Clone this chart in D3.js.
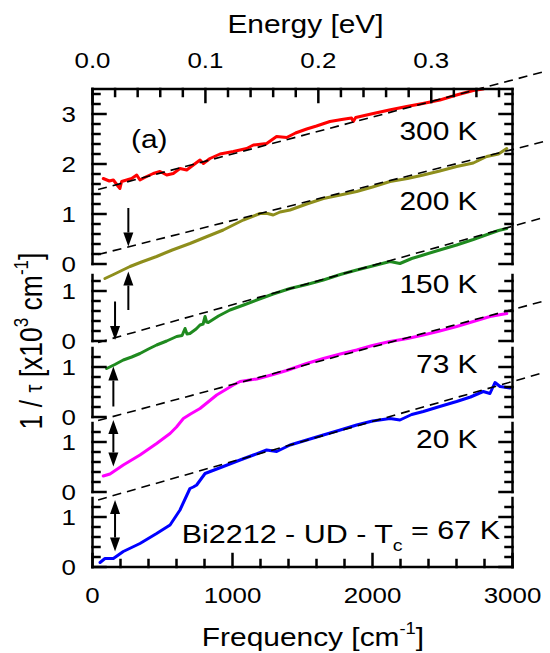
<!DOCTYPE html>
<html><head><meta charset="utf-8">
<script src="https://cdn.jsdelivr.net/npm/d3@7"></script>
<style>body{margin:0;background:#fff}svg{display:block}</style>
</head><body>
<script>
// ---------------- data ----------------
const freqTicks = [0, 1000, 2000, 3000];
const energyTicks = [0, 0.1, 0.2, 0.3];
const temps = ["300 K", "200 K", "150 K", "73 K", "20 K"];
const colors = ["#ff0000", "#8e8e1c", "#1f8a1f", "#ff00ff", "#0000ff"];
const panelMax = [3.5, 1.32, 1.38, 1.38, 1.38];
const panelInts = [[0, 1, 2, 3], [0, 1], [0, 1], [0, 1], [0, 1]];

const s300 = [[77,1.71],[120,1.66],[149,1.68],[184,1.55],[196,1.51],[208,1.65],[244,1.68],[280,1.71],[316,1.78],[339,1.68],[387,1.75],[434,1.81],[482,1.85],[530,1.78],[577,1.81],[625,1.91],[673,1.88],[720,1.98],[768,2.08],[792,2.01],[839,2.11],[911,2.20],[1006,2.25],[1101,2.31],[1149,2.38],[1244,2.41],[1315,2.55],[1387,2.53],[1450,2.62],[1530,2.70],[1600,2.76],[1696,2.85],[1780,2.89],[1850,2.92],[1863,2.85],[1880,2.93],[2006,3.01],[2120,3.08],[2244,3.15],[2360,3.21],[2482,3.28],[2600,3.38],[2720,3.47],[2790,3.50]];
const s200 = [[89,1.25],[150,1.33],[268,1.49],[350,1.58],[458,1.69],[570,1.82],[696,1.95],[810,2.08],[934,2.22],[1077,2.42],[1196,2.55],[1250,2.55],[1291,2.52],[1340,2.58],[1411,2.62],[1530,2.74],[1649,2.85],[1770,2.92],[1887,2.99],[2000,3.08],[2125,3.19],[2250,3.25],[2363,3.32],[2480,3.40],[2601,3.49],[2720,3.56],[2816,3.69],[2900,3.74],[2959,3.85]];
const s150 = [[101,0.97],[160,1.05],[220,1.14],[280,1.20],[339,1.27],[400,1.36],[458,1.44],[530,1.52],[601,1.61],[640,1.63],[661,1.77],[675,1.66],[696,1.67],[740,1.76],[768,1.84],[790,1.86],[804,2.01],[815,1.90],[827,1.89],[900,2.02],[982,2.14],[1080,2.24],[1173,2.34],[1290,2.46],[1411,2.57],[1530,2.65],[1649,2.74],[1770,2.85],[1887,2.94],[2000,3.02],[2125,3.11],[2196,3.07],[2280,3.17],[2363,3.24],[2480,3.34],[2601,3.44],[2720,3.55],[2839,3.67],[2900,3.73],[2959,3.77]];
const s73 = [[77,0.32],[125,0.36],[220,0.54],[339,0.74],[458,0.97],[554,1.17],[600,1.30],[649,1.47],[700,1.56],[768,1.67],[887,1.94],[1006,2.14],[1054,2.21],[1173,2.26],[1290,2.35],[1387,2.43],[1530,2.57],[1649,2.67],[1770,2.76],[1887,2.84],[2000,2.93],[2125,3.01],[2250,3.07],[2363,3.14],[2480,3.22],[2601,3.31],[2720,3.41],[2839,3.51],[2959,3.57]];
const s20 = [[54,0.09],[89,0.17],[149,0.17],[220,0.31],[339,0.47],[458,0.67],[554,0.84],[625,1.14],[696,1.57],[720,1.60],[744,1.64],[804,1.87],[934,2.01],[1054,2.14],[1150,2.24],[1244,2.34],[1316,2.31],[1411,2.44],[1530,2.54],[1649,2.64],[1770,2.74],[1887,2.84],[2000,2.92],[2125,2.97],[2196,2.94],[2280,3.05],[2363,3.11],[2480,3.21],[2601,3.31],[2700,3.40],[2791,3.51],[2839,3.47],[2875,3.69],[2911,3.61],[2982,3.58]];
const seriesList = [s300, s200, s150, s73, s20];

const fitIntercept = [1.46, 1.70, 1.46, 1.40, 1.31];
const fitSlope = [0.74, 0.71, 0.785, 0.75, 0.80];   // per 1000 cm-1
const fitRange = [40, 3230];

const arrowPanel = [1, 1, 2, 2, 3, 4];
const arrowFreq  = [256, 256, 161, 149, 149, 161];
const arrowFrom  = [2.66, 0.62, 2.31, 0.21, 1.44, 1.34];
const arrowTo    = [1.89, 1.39, 1.54, 1.01, 0.51, 0.31];
const arrowBoth  = [false, false, false, false, true, true];

// ---------------- layout ----------------
const W = 550, H = 653;
const FONT = "'Liberation Sans', Arial, Helvetica, sans-serif";
const SX = 1.15;        // horizontal text stretch
const unit = 50, gaps = [11, 7, 6, 6];
const MAJ = 13, MIN = 7, SW = 2.5;
const svg = d3.select("body").append("svg").attr("width", W).attr("height", H);

const x = d3.scaleLinear().domain([0, 3000]).range([92.5, 512.5]);
const EV = 8065.54;
const xE = d3.scaleLinear().domain([0, 3000 / EV]).range(x.range());
const xL = x.range()[0], xR = x.range()[1];

const ys = [];
{
  let top = 89;
  panelMax.forEach((m, i) => {
    if (i > 0) top += gaps[i - 1];
    const bottom = top + m * unit;
    ys.push(d3.scaleLinear().domain([0, m]).range([bottom, top]));
    top = bottom;
  });
}
const yTop = ys[0].range()[1];
const yBottom = ys[4].range()[0];

function txt(xp, yp, anchor, size) {
  return svg.append("text").attr("transform", `translate(${xp},${yp}) scale(${SX},1)`)
    .attr("text-anchor", anchor).attr("font-family", FONT).attr("font-size", size).attr("fill", "#000");
}

// ---- data curves
seriesList.forEach((s, i) => {
  const line = d3.line().x(d => x(d[0])).y(d => ys[i](d[1]));
  svg.append("path").datum(s).attr("d", line)
    .attr("fill", "none").attr("stroke", colors[i]).attr("stroke-width", 3)
    .attr("stroke-linejoin", "round").attr("stroke-linecap", "round");
});

// ---- linear fits (dashed)
fitIntercept.forEach((a, i) => {
  const pts = fitRange.map(f => [f, a + fitSlope[i] * f / 1000]);
  const line = d3.line().x(d => x(d[0])).y(d => ys[i](d[1]));
  svg.append("path").datum(pts).attr("d", line)
    .attr("fill", "none").attr("stroke", "#000").attr("stroke-width", 1.6)
    .attr("stroke-dasharray", "9,6");
});

// ---- arrows
arrowPanel.forEach((p, k) => {
  const ax = x(arrowFreq[k]);
  const y1 = ys[p](arrowFrom[k]), y2 = ys[p](arrowTo[k]);
  const dir = Math.sign(y2 - y1);
  const hl = 14, hw = 5;
  const s1 = arrowBoth[k] ? y1 + dir * hl : y1;
  const s2 = y2 - dir * hl;
  svg.append("line").attr("x1", ax).attr("x2", ax).attr("y1", s1).attr("y2", s2)
    .attr("stroke", "#000").attr("stroke-width", 2);
  const head = (tip, d) => `M${ax},${tip}L${ax - hw},${tip - d * hl}L${ax + hw},${tip - d * hl}Z`;
  svg.append("path").attr("d", head(y2, dir)).attr("fill", "#000");
  if (arrowBoth[k]) svg.append("path").attr("d", head(y1, -dir)).attr("fill", "#000");
});

// ---- frame & ticks: one stroked polyline per piece, appended as separate paths
function piece(pts) {
  svg.append("path").attr("d", d3.line()(pts))
    .attr("fill", "none").attr("stroke", "black").attr("stroke-width", SW)
    .attr("stroke-linecap", "square");
}

ys.forEach((y, i) => {
  const [b, t] = y.range();
  piece([[xL, b], [xL, t]]);
  piece([[xR, b], [xR, t]]);
  d3.range(0, panelMax[i] + 1e-9, 0.2).forEach(v => {
    const major = Math.abs(v - Math.round(v)) < 1e-6;
    const len = major ? MAJ : MIN;
    piece([[xL, y(v)], [xL + len, y(v)]]);
    piece([[xR, y(v)], [xR - len, y(v)]]);
  });
  panelInts[i].forEach(v => txt(76, y(v) + 8, "end", 22.5).text(d3.format("d")(v)));
});

piece([[xL, yBottom], [xR, yBottom]]);
d3.range(0, 3001, 200).forEach(f => piece([[x(f), yBottom], [x(f), yBottom - (f % 1000 === 0 ? MAJ : MIN)]]));
freqTicks.forEach(f => txt(x(f), 603, "middle", 22.5).text(d3.format("d")(f)));

piece([[xL, yTop], [xR, yTop]]);
d3.range(0, 3000 / EV, 0.02).forEach(e => {
  const major = Math.abs(e * 10 - Math.round(e * 10)) < 1e-6;
  piece([[xE(e), yTop], [xE(e), yTop + (major ? MAJ : MIN)]]);
});
energyTicks.forEach(e => txt(xE(e), 68, "middle", 22.5).text(d3.format(".1f")(e)));

// temperature labels
const tempBase = [140, 210, 293, 373, 448];
temps.forEach((t, i) => txt(477.5, tempBase[i], "end", 26).text(t));

// panel letter
txt(131, 148, "start", 26).text("(a)");

// sample label
{
  const t = txt(500, 543, "end", 26.5);
  t.append("tspan").text("Bi2212 - UD - T");
  t.append("tspan").attr("font-size", 17).attr("dy", "0.45em").text("c");
  t.append("tspan").attr("dy", "-0.45em").text(" = 67 K");
}

// axis titles
txt(305.5, 33, "middle", 26).text("Energy [eV]");
{
  const t = txt(313, 646, "middle", 26);
  t.append("tspan").text("Frequency [cm");
  t.append("tspan").attr("font-size", 16).attr("dy", "-0.75em").text("-1");
  t.append("tspan").attr("dy", "0.48em").text("]");
}
{
  const t = svg.append("text").attr("transform", `translate(42,341) scale(${SX},1) rotate(-90)`)
    .attr("text-anchor", "middle").attr("font-family", FONT).attr("font-size", 26.5).attr("fill", "#000");
  t.append("tspan").text("1 / ");
  t.append("tspan").attr("font-size", 20).text("τ");
  t.append("tspan").text(" [x10");
  t.append("tspan").attr("font-size", 17).attr("dy", "-0.7em").text("3");
  t.append("tspan").attr("dy", "0.44em").text(" cm");
  t.append("tspan").attr("font-size", 17).attr("dy", "-0.7em").text("-1");
  t.append("tspan").attr("dy", "0.44em").text("]");
}
</script>
</body></html>
